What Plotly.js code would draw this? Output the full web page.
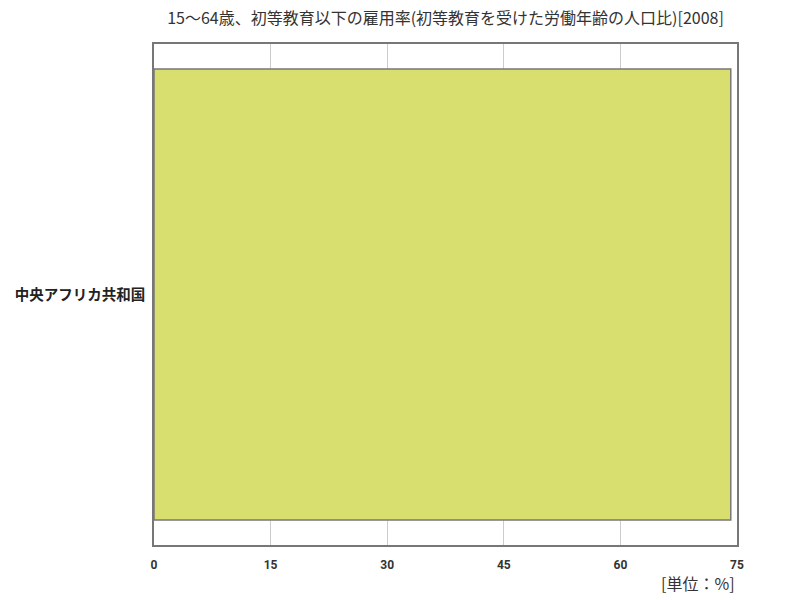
<!DOCTYPE html>
<html>
<head>
<meta charset="utf-8">
<script src="https://cdn.plot.ly/plotly-3.0.1.min.js"></script>
<style>body{margin:0;} #chart{width:800px;height:600px;}</style>
</head>
<body>
<div id="chart"></div>
<script>
let countries = ['中央アフリカ共和国'];
let rates = [74.2];
let tickValues = [0, 15, 30, 45, 60, 75];

let trace = {
  x: rates,
  y: countries,
  type: 'bar',
  orientation: 'h',
  marker: {
    color: '#d8df6e',
    line: { color: '#777777', width: 1.5 }
  },
  hoverinfo: 'x+y'
};

let layout = {
  width: 800,
  height: 600,
  paper_bgcolor: '#ffffff',
  plot_bgcolor: '#ffffff',
  margin: { l: 154, r: 63, t: 44, b: 55 },
  bargap: 0.1,
  showlegend: false,
  title: {
    text: '15～64歳、初等教育以下の雇用率(初等教育を受けた労働年齢の人口比)[2008]',
    font: { family: 'Noto Sans CJK JP', size: 16, color: '#333333' },
    xref: 'paper',
    x: 0.5,
    xanchor: 'center',
    y: 0.97,
    yanchor: 'middle'
  },
  xaxis: {
    range: [0, 75],
    tickvals: tickValues,
    ticktext: tickValues.map(String),
    tickfont: { family: 'Roboto', size: 12, color: '#333333', weight: 'bold' },
    showgrid: true,
    gridcolor: '#cccccc',
    gridwidth: 1,
    zeroline: false,
    showline: true,
    linecolor: '#777777',
    linewidth: 1.5,
    mirror: true,
    ticks: '',
    ticklabelstandoff: 8,
    fixedrange: true
  },
  yaxis: {
    tickfont: { family: 'Noto Sans CJK JP', size: 14.5, color: '#222222', weight: 'bold' },
    showgrid: false,
    zeroline: false,
    showline: true,
    linecolor: '#777777',
    linewidth: 1.5,
    mirror: true,
    ticks: '',
    ticklabelstandoff: 4,
    fixedrange: true
  },
  annotations: [
    {
      text: '[単位：%]',
      xref: 'paper',
      yref: 'paper',
      x: 1,
      y: -0.075,
      xanchor: 'right',
      yanchor: 'middle',
      showarrow: false,
      font: { family: 'Noto Sans CJK JP', size: 16, color: '#333333' }
    }
  ]
};

let config = { displayModeBar: false };

Plotly.newPlot('chart', [trace], layout, config);
</script>
</body>
</html>
